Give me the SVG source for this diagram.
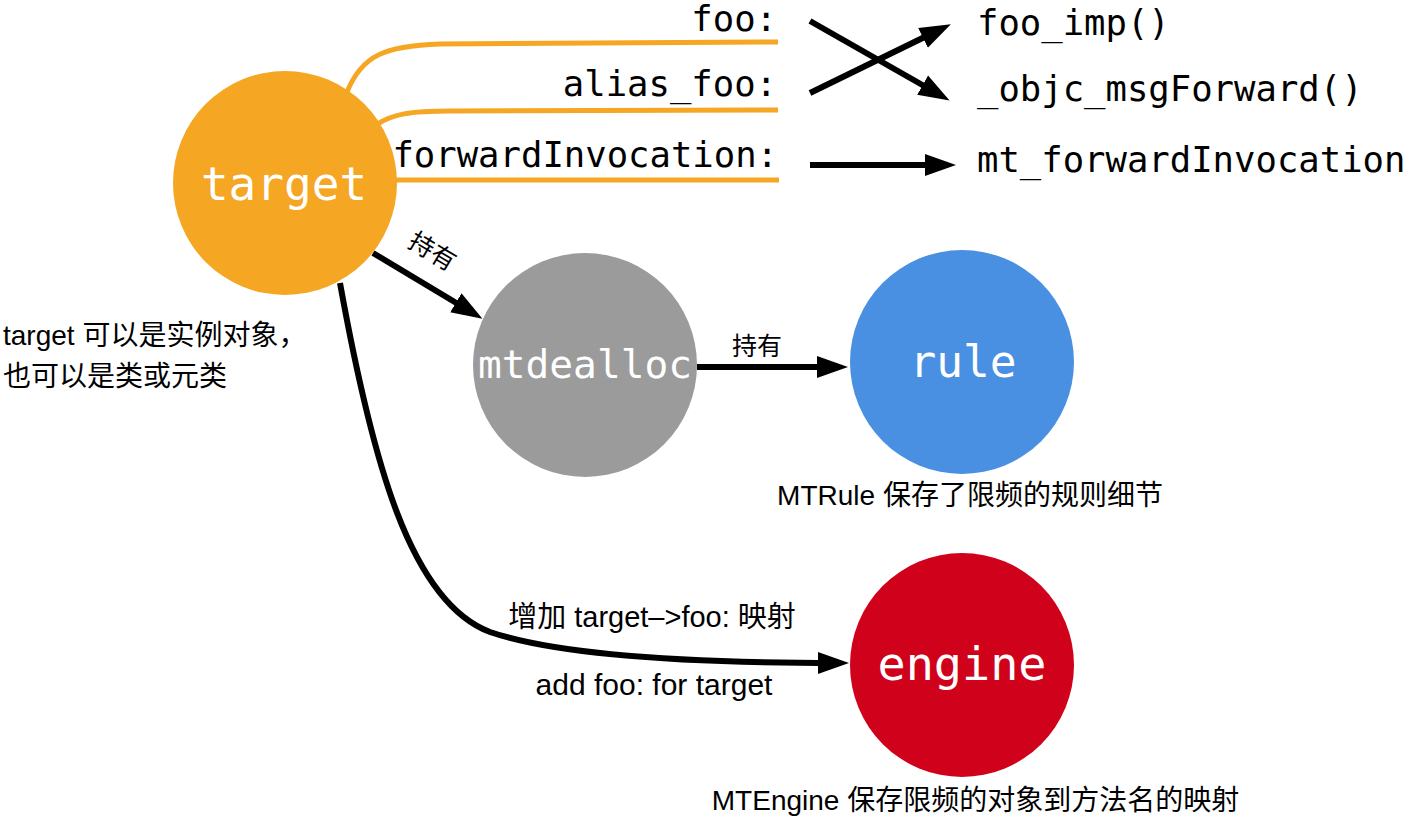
<svg xmlns="http://www.w3.org/2000/svg" width="1408" height="816" viewBox="0 0 1408 816">
  <style>
    .mono { font-family: "DejaVu Sans Mono", "Liberation Mono", monospace; fill: #000; }
    .node-label { font-family: "DejaVu Sans Mono", "Liberation Mono", monospace; fill: #fff; text-anchor: middle; }
    .note { font-family: "Liberation Sans", "Noto Sans CJK SC", sans-serif; fill: #000; }
    .orange { fill: none; stroke: #F5A623; stroke-width: 5; }
    .conn { fill: none; stroke: #000; stroke-width: 6; }
  </style>
  <defs>
    <marker id="arrow" markerUnits="userSpaceOnUse" markerWidth="32" markerHeight="24" refX="20" refY="12" orient="auto" viewBox="0 0 32 24">
      <path d="M0,1 L31,12 L0,23 z" fill="#000"/>
    </marker>
  </defs>

  <rect width="1408" height="816" fill="#fff"/>

  <g id="selector-lines">
    <path class="orange" d="M347,92 C362,55 385,46 440,44 L778,42"/>
    <path class="orange" d="M376,125 C392,114 410,111 450,111 L778,110"/>
    <path class="orange" d="M395,180 L779,180"/>
  </g>

  <g id="connectors">
    <line class="conn" x1="810" y1="21" x2="940" y2="95" marker-end="url(#arrow)"/>
    <line class="conn" x1="810" y1="93" x2="941" y2="29" marker-end="url(#arrow)"/>
    <line class="conn" x1="810" y1="165" x2="945" y2="165" marker-end="url(#arrow)"/>
    <line class="conn" x1="373" y1="253" x2="473" y2="313" marker-end="url(#arrow)"/>
    <line class="conn" x1="697" y1="367" x2="837" y2="367" marker-end="url(#arrow)"/>
    <path class="conn" d="M340,283 C372,460 410,602 490,632 C560,656 700,663 838,663" marker-end="url(#arrow)"/>
  </g>

  <g id="selector-labels">
    <text class="mono" x="777" y="31" font-size="35.6" text-anchor="end">foo:</text>
    <text class="mono" x="777" y="96" font-size="35.6" text-anchor="end">alias_foo:</text>
    <text class="mono" x="778" y="167" font-size="35.6" text-anchor="end">forwardInvocation:</text>
    <text class="mono" x="977" y="35" font-size="35.6">foo_imp()</text>
    <text class="mono" x="977" y="101" font-size="35.6">_objc_msgForward()</text>
    <text class="mono" x="977" y="172" font-size="35.6">mt_forwardInvocation</text>
  </g>

  <g id="node-target">
    <circle cx="285" cy="183" r="112" fill="#F5A623"/>
    <text class="node-label" x="284" y="200" font-size="46">target</text>
  </g>

  <g id="node-mtdealloc">
    <circle cx="585" cy="365" r="112" fill="#9B9B9B"/>
    <text class="node-label" x="585" y="378" font-size="39.5">mtdealloc</text>
  </g>

  <g id="node-rule">
    <circle cx="962" cy="362" r="112" fill="#4A90E2"/>
    <text class="node-label" x="963" y="377" font-size="44.5">rule</text>
  </g>

  <g id="node-engine">
    <circle cx="962" cy="665" r="112" fill="#D0021B"/>
    <text class="node-label" x="962" y="680" font-size="46.8">engine</text>
  </g>

  <g id="labels">
    <text class="note" x="0" y="0" font-size="25" transform="translate(428,259) rotate(31)" text-anchor="middle">持有</text>
    <text class="note" x="757" y="355" font-size="25" text-anchor="middle">持有</text>
    <text class="note" x="652" y="627" font-size="29" text-anchor="middle">增加 target–&gt;foo: 映射</text>
    <text class="note" x="654" y="695" font-size="30" text-anchor="middle">add foo: for target</text>
    <text class="note" x="3" y="345" font-size="28">target 可以是实例对象，</text>
    <text class="note" x="3" y="386" font-size="28">也可以是类或元类</text>
    <text class="note" x="970" y="505" font-size="28" text-anchor="middle">MTRule 保存了限频的规则细节</text>
    <text class="note" x="975.5" y="810" font-size="28" text-anchor="middle">MTEngine 保存限频的对象到方法名的映射</text>
  </g>
</svg>
